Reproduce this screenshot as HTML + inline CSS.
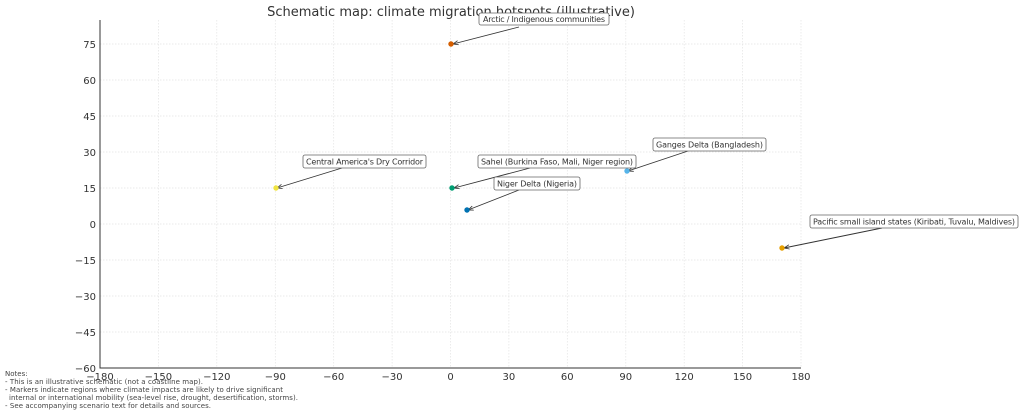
<!DOCTYPE html>
<html><head><meta charset="utf-8"><style>
body{margin:0;background:#fff}
svg{display:block;font-family:"DejaVu Sans","Liberation Sans",sans-serif}
</style></head><body>
<svg width="1024" height="415" viewBox="0 0 1024 415" xmlns="http://www.w3.org/2000/svg">
<defs><marker id="ah" viewBox="0 0 10 10" refX="10" refY="5" markerWidth="6" markerHeight="6" orient="auto"><path d="M0,1 L10,5 L0,9" fill="none" stroke="#333" stroke-width="1.5"/></marker></defs>
<g stroke="#e3e3e3" stroke-width="0.7" stroke-dasharray="1.5,1.5">
<line x1="158.4" y1="20" x2="158.4" y2="368"/><line x1="216.8" y1="20" x2="216.8" y2="368"/><line x1="275.3" y1="20" x2="275.3" y2="368"/><line x1="333.7" y1="20" x2="333.7" y2="368"/><line x1="392.1" y1="20" x2="392.1" y2="368"/><line x1="450.5" y1="20" x2="450.5" y2="368"/><line x1="508.9" y1="20" x2="508.9" y2="368"/><line x1="567.3" y1="20" x2="567.3" y2="368"/><line x1="625.8" y1="20" x2="625.8" y2="368"/><line x1="684.2" y1="20" x2="684.2" y2="368"/><line x1="742.6" y1="20" x2="742.6" y2="368"/><line x1="801" y1="20" x2="801" y2="368"/>
<line x1="100" y1="44" x2="801" y2="44"/><line x1="100" y1="80" x2="801" y2="80"/><line x1="100" y1="116" x2="801" y2="116"/><line x1="100" y1="152" x2="801" y2="152"/><line x1="100" y1="188" x2="801" y2="188"/><line x1="100" y1="224" x2="801" y2="224"/><line x1="100" y1="260" x2="801" y2="260"/><line x1="100" y1="296" x2="801" y2="296"/><line x1="100" y1="332" x2="801" y2="332"/>
</g>
<g stroke="#333" stroke-width="1"><line x1="100" y1="20" x2="100" y2="368.5"/><line x1="99.5" y1="368" x2="801" y2="368"/></g>
<g font-size="10" fill="#333" text-anchor="end">
<text x="96" y="48">75</text><text x="96" y="84">60</text><text x="96" y="120">45</text><text x="96" y="156">30</text><text x="96" y="192">15</text><text x="96" y="228">0</text><text x="96" y="264">−15</text><text x="96" y="300">−30</text><text x="96" y="336">−45</text><text x="96" y="372">−60</text>
</g>
<g font-size="10" fill="#333" text-anchor="middle">
<text x="100" y="380">−180</text><text x="158.4" y="380">−150</text><text x="216.8" y="380">−120</text><text x="275.3" y="380">−90</text><text x="333.7" y="380">−60</text><text x="392.1" y="380">−30</text><text x="450.5" y="380">0</text><text x="508.9" y="380">30</text><text x="567.3" y="380">60</text><text x="625.8" y="380">90</text><text x="684.2" y="380">120</text><text x="742.6" y="380">150</text><text x="801" y="380">180</text>
</g>
<text x="451" y="16" font-size="13" fill="#333" text-anchor="middle">Schematic map: climate migration hotspots (illustrative)</text>
<g stroke="#333" stroke-width="0.9" marker-end="url(#ah)">
<line x1="519" y1="27" x2="453" y2="44"/>
<line x1="342" y1="168" x2="277" y2="188"/>
<line x1="530" y1="168" x2="454" y2="188"/>
<line x1="519" y1="190" x2="468" y2="210"/>
<line x1="688" y1="151" x2="628" y2="171"/>
<line x1="882" y1="228" x2="784" y2="248"/>
</g>
<circle cx="451" cy="44" r="2.7" fill="#d55e00"/>
<circle cx="276" cy="188" r="2.7" fill="#f0e442"/>
<circle cx="452" cy="188" r="2.7" fill="#009e73"/>
<circle cx="467" cy="210" r="2.7" fill="#0072b2"/>
<circle cx="627" cy="171" r="2.7" fill="#56b4e9"/>
<circle cx="782" cy="248" r="2.7" fill="#e69f00"/>
<g fill="#fff" stroke="#666" stroke-width="0.8">
<rect x="479" y="13" width="130" height="12" rx="2"/>
<rect x="303" y="155" width="123" height="13" rx="2"/>
<rect x="478" y="155" width="158" height="13" rx="2"/>
<rect x="494" y="177" width="86" height="13" rx="2"/>
<rect x="653" y="138" width="113" height="13" rx="2"/>
<rect x="810" y="215" width="208" height="13" rx="2"/>
</g>
<g font-size="8" fill="#333">
<text x="483" y="22" textLength="122">Arctic / Indigenous communities</text>
<text x="306" y="164.5" textLength="117">Central America's Dry Corridor</text>
<text x="481" y="164.5" textLength="152">Sahel (Burkina Faso, Mali, Niger region)</text>
<text x="497" y="186.5" textLength="80">Niger Delta (Nigeria)</text>
<text x="656" y="147.5" textLength="107">Ganges Delta (Bangladesh)</text>
<text x="813" y="224.5" textLength="202">Pacific small island states (Kiribati, Tuvalu, Maldives)</text>
</g>
<g font-size="7" fill="#444">
<text x="5" y="376">Notes:</text>
<text x="5" y="384" textLength="198">- This is an illustrative schematic (not a coastline map).</text>
<text x="5" y="392" textLength="278">- Markers indicate regions where climate impacts are likely to drive significant</text>
<text x="9" y="400" textLength="289">internal or international mobility (sea-level rise, drought, desertification, storms).</text>
<text x="5" y="408" textLength="206">- See accompanying scenario text for details and sources.</text>
</g>
</svg>
</body></html>
